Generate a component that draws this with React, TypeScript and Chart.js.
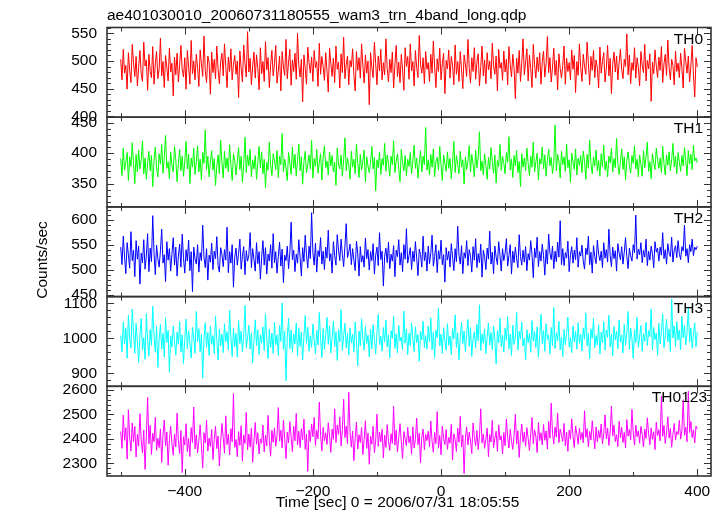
import React, { useEffect, useRef } from 'react';
import { Chart, registerables } from 'chart.js';

Chart.register(...registerables);

const FONT = '"Liberation Sans", Arial, Helvetica, sans-serif';

const TITLE = 'ae401030010_20060731180555_wam3_trn_4band_long.qdp';
const X_LABEL = 'Time [sec] 0 = 2006/07/31 18:05:55';
const Y_LABEL = 'Counts/sec';

const T_START = -500;
const T_BIN = 2;
const X_MIN = -521.4;
const X_MAX = 421.4;
const X_TICKS = [-400, -200, 0, 200, 400];
const X_MINOR_TICKS = [-500, -300, -100, 100, 300];

const BANDS = ['TH0', 'TH1', 'TH2', 'TH3', 'TH0123'];
const COLORS = ['#ff0000', '#00ff00', '#0000ff', '#00ffff', '#ff00ff'];

const TH0 = [
  503,466,521,478,492,449,515,483,461,530,497,472,508,455,488,
  519,476,463,534,491,502,447,512,481,470,526,458,495,517,468,
  486,541,473,499,452,510,489,464,523,480,496,437,507,475,514,
  462,493,528,484,471,506,449,519,491,458,537,477,500,466,512,
  488,454,520,495,472,545,483,461,509,497,440,516,479,503,468,
  527,485,459,498,514,473,531,490,452,507,481,522,466,494,510,
  476,500,434,518,487,462,529,495,471,553,480,505,457,491,516,
  469,511,488,448,524,477,499,463,535,484,506,452,493,519,473,
  495,528,460,482,509,446,517,489,474,539,468,498,521,456,502,
  481,514,467,550,492,471,503,426,511,486,458,525,497,478,507,
  463,519,488,499,454,532,476,508,490,465,515,482,444,523,496,
  472,505,461,527,485,498,451,513,479,543,468,494,509,457,501,
  489,522,474,446,517,483,506,469,531,492,460,511,478,500,421,
  515,488,470,534,495,457,509,482,521,466,497,475,540,486,462,
  503,479,516,451,493,528,472,498,461,512,484,447,524,490,508,
  467,531,482,499,455,519,488,470,546,493,478,506,459,517,485,
  497,463,512,478,536,489,452,504,481,523,466,495,514,441,501,
  486,520,469,508,492,457,529,476,499,463,517,484,450,511,494,
  472,539,488,460,506,481,524,467,498,513,455,490,527,473,502,
  459,515,484,500,468,532,491,476,509,446,521,487,497,465,518,
  480,503,457,526,494,471,512,488,432,505,478,519,463,496,540,
  475,498,522,464,511,486,452,530,493,469,507,481,515,458,499,
  518,471,495,544,479,506,462,489,523,474,501,448,513,486,469,
  492,527,458,505,481,497,466,520,485,510,443,499,474,531,488,
  463,512,490,476,534,496,457,508,483,519,470,502,487,451,525,
  478,499,515,462,487,528,473,505,441,494,516,480,509,466,497,
  521,485,468,503,490,549,475,511,459,497,483,524,469,506,488,
  455,517,492,479,530,464,501,486,513,427,498,477,520,491,470,
  507,483,526,461,495,512,474,538,488,466,503,492,457,518,481,
  496,470,514,487,451,523,499,478,509,462,491,528,475,435,506,
  489,
];

const TH1 = [
  391,363,408,372,386,401,355,394,378,417,383,350,398,369,405,
  374,389,420,366,392,357,384,403,371,396,345,388,410,376,361,
  399,382,414,367,393,429,375,386,358,402,380,369,411,388,353,
  383,406,371,395,362,387,419,374,398,350,392,377,408,365,386,
  412,369,390,356,401,383,438,373,395,361,386,404,372,391,347,
  378,397,366,421,384,359,403,375,392,369,414,381,355,399,388,
  364,386,409,373,395,352,381,426,368,397,379,406,361,389,374,
  396,357,384,411,376,402,366,390,343,385,372,418,381,363,399,
  387,373,404,360,395,381,432,369,390,376,355,401,384,365,410,
  375,398,362,388,415,371,394,349,386,403,368,382,397,374,421,
  359,391,378,406,367,384,399,356,393,412,376,387,364,402,379,
  396,369,385,347,408,381,374,397,362,389,425,371,392,380,357,
  403,377,390,366,415,383,360,398,372,387,405,353,394,379,368,
  385,411,374,393,338,389,376,402,365,391,380,416,370,397,383,
  362,395,381,420,368,387,399,374,353,406,384,371,396,363,390,
  378,401,366,387,413,375,392,359,383,404,369,395,381,442,372,
  389,364,398,377,407,361,386,393,372,411,380,355,397,384,370,
  402,375,391,358,385,419,368,396,381,366,403,377,389,349,394,
  373,386,412,369,398,382,361,405,376,392,435,371,387,364,399,
  380,357,393,374,409,386,367,397,351,388,378,414,372,395,383,
  366,401,385,427,372,390,360,396,379,404,368,386,345,399,377,
  392,371,408,383,363,395,377,418,369,386,400,356,391,382,410,
  374,397,362,388,406,379,393,366,384,446,371,398,387,359,403,
  381,394,370,415,376,389,352,400,385,373,407,364,392,380,396,
  368,403,386,357,398,375,421,383,366,394,379,405,371,388,362,
  399,378,413,372,387,361,395,384,408,369,391,376,424,382,365,
  386,407,373,394,356,388,402,379,367,396,383,412,374,390,361,
  397,381,362,404,376,393,418,370,386,358,399,384,373,408,389,
  375,392,368,411,383,364,397,380,402,371,389,416,377,395,366,
  401,385,370,396,379,409,388,363,404,382,398,373,413,387,392,
  384,
];

const TH2 = [
  546,511,568,526,493,555,530,504,577,519,540,487,559,522,548,
  472,534,515,561,502,528,573,497,544,517,609,535,491,550,523,
  506,539,582,514,531,477,557,520,543,498,533,565,510,546,488,
  528,552,506,572,525,494,541,518,560,499,537,457,546,522,512,
  551,496,535,519,590,526,505,543,480,530,516,554,501,538,523,
  567,509,496,545,532,507,541,520,586,495,537,514,551,466,526,
  544,510,533,562,502,528,547,491,539,518,530,575,505,543,522,
  498,555,513,537,482,526,559,510,545,492,532,518,551,504,573,
  515,537,494,527,556,508,542,475,530,519,548,503,535,596,521,
  540,497,532,514,561,526,488,545,517,570,531,504,548,523,615,
  535,510,554,496,539,527,565,512,538,501,546,524,580,518,533,
  494,557,529,510,571,540,519,562,531,507,548,593,525,536,552,
  511,543,520,499,558,534,488,547,516,529,506,564,523,541,500,
  537,519,553,492,530,546,509,575,521,538,468,528,544,515,556,
  503,532,518,549,487,540,527,561,510,535,497,551,522,583,514,
  529,545,501,538,517,557,524,489,542,531,506,568,519,536,498,
  548,513,534,570,508,527,551,495,539,522,560,511,531,476,545,
  520,538,506,553,526,499,543,517,588,530,512,549,493,535,524,
  559,509,541,528,496,547,520,563,505,533,515,552,486,540,527,
  501,544,522,578,512,536,493,548,526,511,557,530,498,543,519,
  534,563,508,529,551,492,538,515,546,523,505,571,527,510,540,
  516,547,499,533,520,559,531,485,544,525,566,507,537,518,552,
  529,490,541,512,572,534,521,548,503,538,517,556,526,599,511,
  543,509,535,524,558,497,530,547,514,540,521,565,506,537,528,
  550,518,502,544,531,568,511,536,494,549,527,513,560,532,519,
  538,505,555,524,541,516,582,530,507,546,523,539,498,553,534,
  521,547,512,536,565,527,503,544,529,518,551,535,610,522,542,
  531,555,515,540,526,562,509,538,520,548,532,505,557,536,544,
  518,546,530,575,523,541,512,553,534,527,566,516,540,549,525,
  559,533,521,547,538,590,528,543,515,551,537,562,529,546,541,
  548,
];

const TH3 = [
  1008,961,1047,984,1030,943,1066,1001,972,1084,1020,957,1043,989,931,
  1011,1057,966,1002,940,1071,994,949,1025,980,1092,1006,960,1034,917,
  997,1040,969,1014,946,1059,988,1023,903,1007,975,1036,992,952,1018,
  983,1048,961,1010,928,999,1055,970,1022,986,944,1032,1004,957,1077,
  991,1028,962,1011,886,1000,1045,974,1017,951,1035,983,1008,956,1063,
  996,938,1026,979,1012,959,1042,990,1019,967,1080,1003,948,1029,976,
  1014,946,1051,985,1021,961,1007,1094,972,1000,1038,969,1016,930,993,
  1053,979,1025,954,1010,987,1033,965,1070,998,942,1027,974,1015,957,
  1046,982,1009,951,1038,991,1101,968,1020,879,1002,1057,971,1024,960,
  1013,984,1044,949,1029,977,1018,939,1005,1065,986,1032,963,1007,974,
  1041,995,956,1023,981,1074,1000,945,1028,968,1011,1060,983,1036,958,
  1003,1050,976,1019,937,1025,990,1082,965,1008,1043,972,1015,952,1030,
  987,1012,961,1047,993,921,1021,978,1056,1001,966,1034,985,1009,947,
  1026,970,1039,997,955,1017,1068,982,1006,963,1031,989,1052,975,1010,
  944,1022,1000,1063,971,1013,958,1037,992,1004,967,1078,986,1027,953,
  1015,979,1044,1001,962,1033,988,1011,934,1020,996,1049,973,1008,969,
  1035,990,1059,968,1018,945,1024,1002,1087,978,1012,957,1030,994,966,
  1042,980,1006,953,1028,999,1067,974,1016,939,1003,1046,985,1021,962,
  1010,1054,977,1031,948,1000,1019,972,1040,993,1096,965,1013,986,1027,
  956,1005,1044,981,1017,968,1035,999,927,1022,987,1058,976,1009,961,
  1029,994,1062,970,1012,951,1038,983,1004,1075,966,1020,998,1047,978,
  1001,939,1025,988,1014,960,1051,992,1019,974,1033,946,1008,1069,985,
  1023,963,1042,997,1010,955,1031,980,1088,971,1016,993,1049,967,1004,
  948,1026,982,1013,1061,975,1002,959,1036,990,1020,969,1045,986,1011,
  964,1030,997,1072,979,1015,942,1027,1000,1057,973,1008,981,1039,955,
  1018,987,1048,966,1024,1003,1066,976,1012,950,1034,995,1021,970,1053,
  989,1009,958,1040,981,1017,1077,969,1029,1000,943,1025,988,1060,974,
  1006,1037,963,1013,992,1046,979,1022,1005,1084,967,1031,996,1015,952,
  1043,984,1019,1070,973,1008,1055,990,1027,962,1112,1001,1036,977,1048,
  995,1024,968,1063,1002,1038,981,1016,1090,989,1030,972,1011,1044,976,
  1018,
];

const TH0123 = [
  2430,2361,2497,2394,2446,2317,2519,2407,2350,2465,2388,2451,2326,2418,2370,
  2503,2397,2342,2436,2275,2411,2570,2379,2455,2336,2423,2389,2488,2353,2402,
  2364,2441,2304,2415,2477,2371,2428,2292,2396,2451,2380,2333,2420,2367,2505,
  2393,2339,2434,2262,2409,2375,2462,2348,2401,2328,2446,2385,2530,2359,2417,
  2342,2394,2457,2371,2280,2425,2383,2476,2350,2403,2368,2438,2315,2397,2451,
  2360,2412,2289,2384,2463,2406,2341,2494,2377,2419,2334,2442,2388,2585,2365,
  2397,2327,2430,2373,2454,2309,2416,2381,2508,2355,2420,2366,2443,2304,2391,
  2467,2378,2425,2338,2400,2382,2456,2347,2414,2371,2496,2394,2329,2435,2386,
  2445,2370,2413,2528,2391,2435,2363,2477,2400,2319,2427,2384,2470,2407,2348,
  2451,2392,2504,2375,2431,2364,2442,2396,2480,2357,2420,2267,2436,2389,2461,
  2409,2488,2373,2435,2400,2550,2414,2351,2447,2392,2425,2377,2466,2412,2345,
  2440,2398,2523,2384,2456,2418,2490,2371,2437,2562,2405,2452,2380,2591,2426,
  2366,2432,2311,2403,2469,2358,2417,2385,2446,2336,2398,2474,2361,2424,2296,
  2410,2378,2451,2343,2395,2501,2369,2428,2387,2439,2322,2416,2365,2458,2392,
  2353,2421,2381,2533,2374,2436,2346,2405,2462,2388,2319,2430,2399,2372,2447,
  2384,2412,2337,2449,2363,2396,2485,2376,2423,2301,2408,2440,2356,2419,2393,
  2431,2368,2473,2390,2345,2426,2380,2511,2362,2414,2335,2452,2401,2377,2438,
  2357,2406,2382,2459,2314,2421,2397,2348,2443,2386,2492,2366,2415,2258,2403,
  2449,2375,2427,2391,2340,2465,2408,2372,2434,2356,2412,2523,2383,2420,2361,
  2399,2444,2327,2418,2387,2476,2364,2402,2431,2349,2457,2395,2413,2338,2426,
  2372,2481,2407,2363,2439,2392,2357,2415,2500,2378,2433,2324,2409,2461,2386,
  2428,2369,2446,2401,2352,2419,2487,2380,2437,2411,2344,2466,2393,2425,2375,
  2459,2394,2432,2358,2471,2403,2546,2422,2379,2448,2407,2506,2385,2440,2414,
  2390,2463,2371,2427,2349,2436,2399,2482,2410,2365,2453,2420,2378,2444,2397,
  2426,2384,2515,2406,2441,2368,2430,2395,2474,2416,2359,2449,2388,2435,2403,
  2461,2379,2422,2498,2400,2443,2373,2428,2534,2412,2456,2389,2417,2368,2472,
  2404,2447,2385,2426,2363,2479,2411,2438,2396,2520,2425,2374,2457,2409,2433,
  2382,2451,2418,2367,2440,2402,2486,2421,2376,2445,2398,2429,2356,2468,2413,
  2437,2392,2575,2410,2455,2381,2427,2490,2403,2442,2366,2419,2463,2395,2430,
  2418,2476,2399,2434,2560,2414,2447,2388,2595,2426,2471,2405,2437,2383,2452,
  2441,
];

const SERIES = [TH0, TH1, TH2, TH3, TH0123];

const Y_TICKS_TH0 = [400, 450, 500, 550];
const Y_TICKS_TH1 = [350, 400, 450];
const Y_TICKS_TH2 = [450, 500, 550, 600];
const Y_TICKS_TH3 = [900, 1000, 1100];
const Y_TICKS_TH0123 = [2300, 2400, 2500, 2600];
const Y_TICKS = [Y_TICKS_TH0, Y_TICKS_TH1, Y_TICKS_TH2, Y_TICKS_TH3, Y_TICKS_TH0123];

const Y_MIN = [398.4, 311.8, 447, 862.9, 2248];
const Y_MAX = [560.5, 458.8, 626.6, 1119.4, 2615];
const Y_MINOR_STEP = [10, 10, 10, 20, 20];

const TIMES = TH0.map((_, i) => T_START + i * T_BIN);
const AXIS_IDS = BANDS.map((_, i) => 'y' + i);

const panelClip = {
  id: 'panelClip',
  beforeDatasetDraw(chart: any, args: any) {
    const ys = args.meta.yScale;
    const ca = chart.chartArea;
    const ctx = chart.ctx;
    ctx.save();
    ctx.beginPath();
    ctx.rect(ca.left, ys.top, ca.right - ca.left, ys.bottom - ys.top);
    ctx.clip();
  },
  afterDatasetDraw(chart: any) {
    chart.ctx.restore();
  },
};

const qdpFrame = {
  id: 'qdpFrame',
  afterDraw(chart: any) {
    const { ctx, chartArea } = chart;
    const xs = chart.scales.x;
    const l = chartArea.left;
    const r = chartArea.right;
    ctx.save();
    ctx.strokeStyle = '#333333';
    AXIS_IDS.forEach((id, p) => {
      const ys = chart.scales[id];
      const top = ys.top;
      const bot = ys.bottom;
      ctx.lineWidth = 1;
      ctx.beginPath();
      const step = Y_MINOR_STEP[p];
      for (let v = Math.ceil(Y_MIN[p] / step) * step; v <= Y_MAX[p]; v += step) {
        const y = Math.round(ys.getPixelForValue(v)) + 0.5;
        const len = Y_TICKS[p].includes(v) ? 7 : 4;
        ctx.moveTo(l, y);
        ctx.lineTo(l + len, y);
        ctx.moveTo(r, y);
        ctx.lineTo(r - len, y);
      }
      const xt = X_TICKS.concat(X_MINOR_TICKS);
      xt.forEach((t) => {
        const x = Math.round(xs.getPixelForValue(t)) + 0.5;
        const len = X_TICKS.includes(t) ? 7 : 4;
        ctx.moveTo(x, top);
        ctx.lineTo(x, top + len);
        ctx.moveTo(x, bot);
        ctx.lineTo(x, bot - len);
      });
      ctx.stroke();
      ctx.lineWidth = 1.6;
      ctx.strokeRect(l, top, r - l, bot - top);

      ctx.fillStyle = '#000';
      ctx.font = '15.5px ' + FONT;
      ctx.textBaseline = 'alphabetic';
      ctx.textAlign = 'right';
      ctx.fillText(BANDS[p], p === 4 ? 707 : 703, top + 16);
    });

    ctx.fillStyle = '#000';
    ctx.font = '15.5px ' + FONT;
    ctx.textAlign = 'left';
    ctx.textBaseline = 'alphabetic';
    ctx.fillText(TITLE, l, 19.5);

    ctx.textAlign = 'center';
    ctx.fillText(X_LABEL, 397.5, 507);

    ctx.save();
    ctx.translate(47, 260);
    ctx.rotate(-Math.PI / 2);
    ctx.textAlign = 'center';
    ctx.fillText(Y_LABEL, 0, 0);
    ctx.restore();
    ctx.restore();
  },
};

export default function App() {
  const ref = useRef<HTMLCanvasElement | null>(null);

  useEffect(() => {
    if (!ref.current) return;
    const scales: any = {
      x: {
        type: 'linear',
        position: 'bottom',
        min: X_MIN,
        max: X_MAX,
        grid: { display: false, drawTicks: false },
        border: { display: false },
        afterBuildTicks: (s: any) => {
          s.ticks = X_TICKS.map((v) => ({ value: v }));
        },
        afterFit: (s: any) => {
          s.height = 40;
        },
        ticks: {
          autoSkip: false,
          maxRotation: 0,
          padding: 6,
          color: '#000',
          font: { family: FONT, size: 15.5 },
          callback: (v: any) => (v < 0 ? '\u2212' + Math.abs(v) : String(v)),
        },
      },
    };
    AXIS_IDS.forEach((id, p) => {
      scales[id] = {
        type: 'linear',
        position: 'left',
        stack: 'panels',
        stackWeight: 1,
        weight: 10 - p,
        min: Y_MIN[p],
        max: Y_MAX[p],
        grid: { display: false, drawTicks: false },
        border: { display: false },
        afterBuildTicks: (s: any) => {
          s.ticks = Y_TICKS[p].map((v) => ({ value: v }));
        },
        afterFit: (s: any) => {
          s.width = 107;
        },
        ticks: {
          autoSkip: false,
          padding: 10,
          color: '#000',
          font: { family: FONT, size: 15.5 },
          callback: (v: any) => String(v),
        },
      };
    });

    const chart = new Chart(ref.current, {
      type: 'line',
      data: {
        datasets: SERIES.map((vals, p) => ({
          label: BANDS[p],
          data: vals.map((v, i) => ({ x: TIMES[i], y: v })),
          yAxisID: AXIS_IDS[p],
          xAxisID: 'x',
          borderColor: COLORS[p],
          backgroundColor: COLORS[p],
          borderWidth: 1,
          pointRadius: 0,
          tension: 0,
          fill: false,
        })),
      },
      options: {
        animation: false,
        responsive: false,
        maintainAspectRatio: false,
        devicePixelRatio: 1,
        layout: { padding: { top: 27.5, right: 12, bottom: 0, left: 0 } },
        plugins: {
          legend: { display: false },
          title: { display: false },
          tooltip: { enabled: false },
        },
        events: [],
        scales,
      },
      plugins: [panelClip, qdpFrame],
    });
    return () => chart.destroy();
  }, []);

  return (
    <div style={{ position: 'fixed', left: 0, top: 0, width: 723, height: 516, background: '#fff' }}>
      <canvas ref={ref} width={723} height={516} style={{ display: 'block' }} />
    </div>
  );
}
